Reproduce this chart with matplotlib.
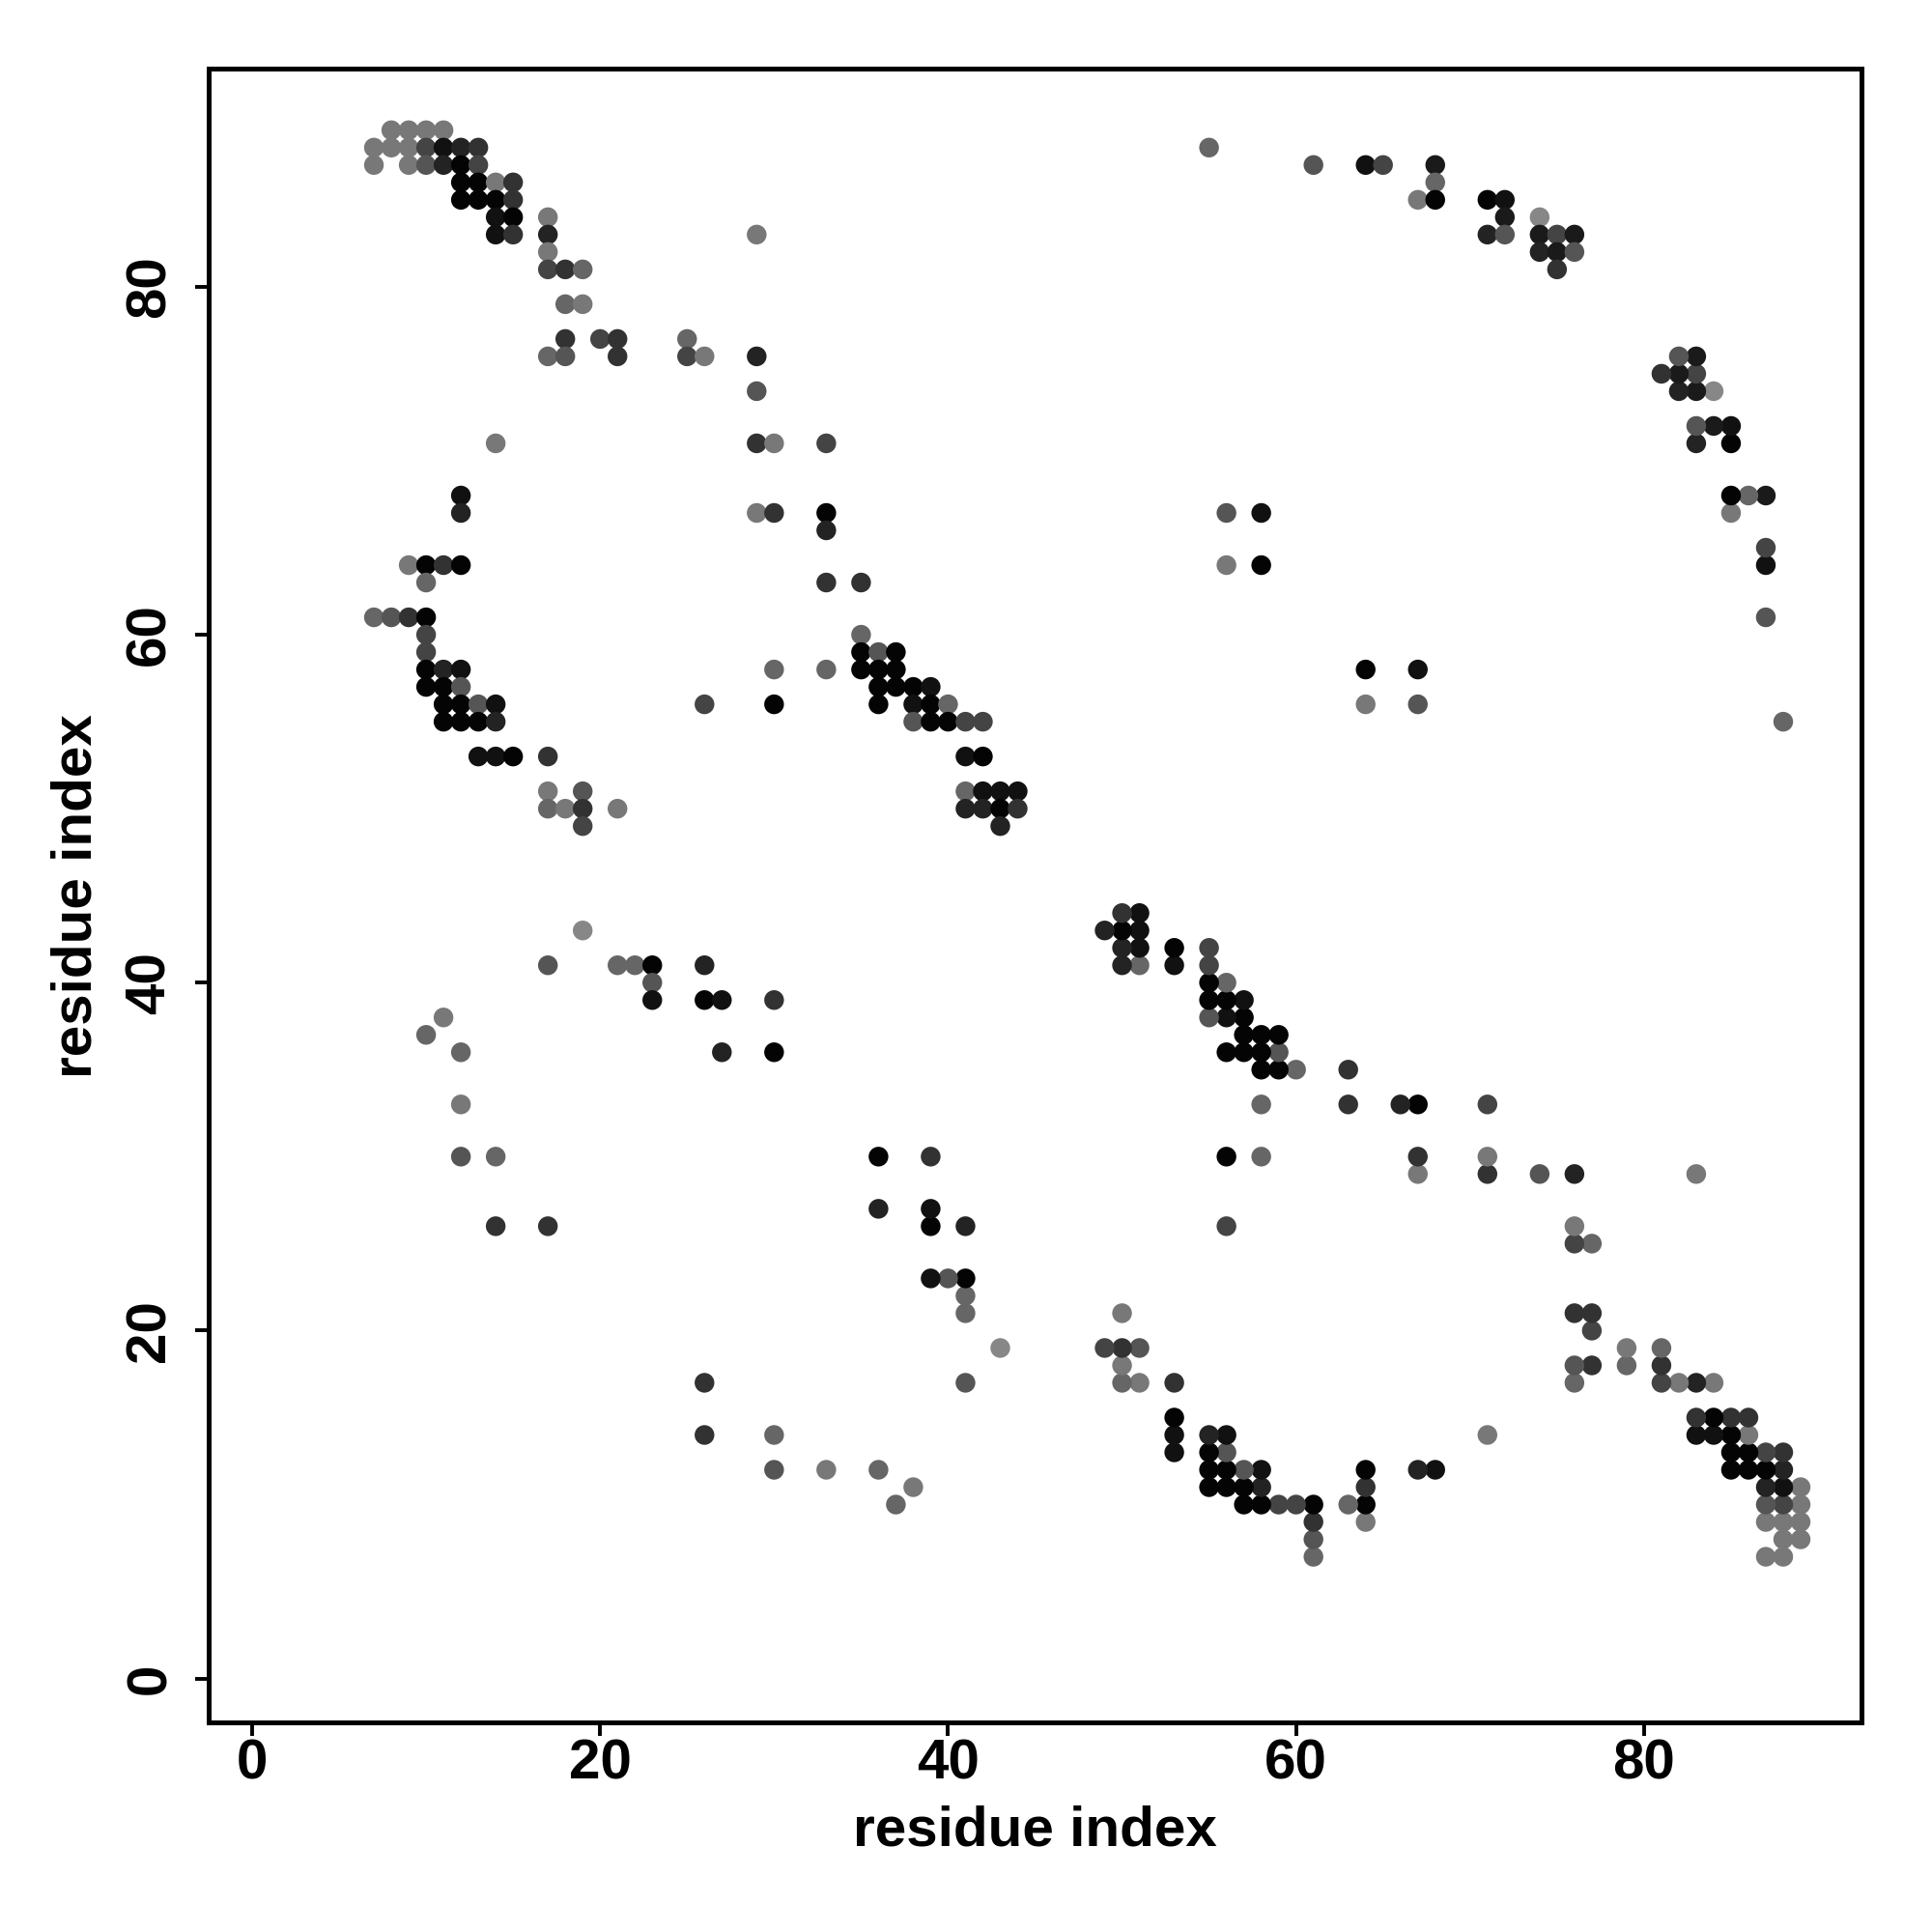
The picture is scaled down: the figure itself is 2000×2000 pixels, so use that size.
import matplotlib
matplotlib.use("Agg")
import matplotlib.pyplot as plt
import numpy as np

# Contacts (upper triangle, i < j); the map is drawn symmetric.
res_i = [8, 9, 10, 11,
         7, 8, 9, 10, 11, 12, 13,
         7, 9, 10, 11, 12, 13,
         12, 13, 14, 15,
         12, 13, 14, 15,
         14, 15, 17,
         14, 15, 17,
         17,
         17, 18, 19,
         18, 19,
         18, 20, 21,
         17, 18, 21,
         25, 25, 26, 29, 29, 29, 29, 30, 33, 29, 30, 33, 33,
         33, 35, 35,
         35, 36, 37,
         30, 33, 35, 36, 37,
         36, 37, 38, 39,
         26, 30, 36, 38, 39, 40,
         38, 39, 40, 41, 42,
         41, 42,
         41, 42, 43, 44,
         41, 42, 43, 44,
         43,
         12, 12,
         9, 10, 11, 12,
         10,
         7, 8, 9, 10,
         10, 10,
         10, 11, 12,
         10, 11, 12,
         11, 12, 13, 14,
         11, 12, 13, 14,
         13, 14, 15, 17,
         17, 19,
         17, 18, 19, 21,
         19,
         19, 17, 21, 22, 23, 26, 23, 23, 26, 27, 30, 11, 10, 12, 27, 30, 12, 12, 14, 14, 17,
         55, 61, 64, 65, 68, 68, 67, 68, 71, 72, 72, 74, 71, 72, 74, 75, 76, 74, 75, 76, 75,
         56, 58, 56, 58,
         14]
res_j = [89, 89, 89, 89,
         88, 88, 88, 88, 88, 88, 88,
         87, 87, 87, 87, 87, 87,
         86, 86, 86, 86,
         85, 85, 85, 85,
         84, 84, 84,
         83, 83, 83,
         82,
         81, 81, 81,
         79, 79,
         77, 77, 77,
         76, 76, 76,
         77, 76, 76, 83, 76, 74, 71, 71, 71, 67, 67, 67, 66,
         63, 63, 60,
         59, 59, 59,
         58, 58, 58, 58, 58,
         57, 57, 57, 57,
         56, 56, 56, 56, 56, 56,
         55, 55, 55, 55, 55,
         53, 53,
         51, 51, 51, 51,
         50, 50, 50, 50,
         49,
         68, 67,
         64, 64, 64, 64,
         63,
         61, 61, 61, 61,
         60, 59,
         58, 58, 58,
         57, 57, 57,
         56, 56, 56, 56,
         55, 55, 55, 55,
         53, 53, 53, 53,
         51, 51,
         50, 50, 50, 50,
         49,
         43, 41, 41, 41, 41, 41, 40, 39, 39, 39, 39, 38, 37, 36, 36, 36, 33, 30, 30, 26, 26,
         88, 87, 87, 87, 87, 86, 85, 85, 85, 85, 84, 84, 83, 83, 83, 83, 83, 82, 82, 82, 81,
         67, 67, 64, 64,
         71]
# predicted contact probability (darker = higher)
prob = [0.17, 0.17, 0.17, 0.17,
        0.17, 0.17, 0.17, 0.53, 0.88, 0.76, 0.65,
        0.17, 0.17, 0.41, 0.76, 0.97, 0.53,
        0.97, 0.97, 0.17, 0.65,
        0.97, 0.97, 0.97, 0.65,
        0.88, 0.97, 0.17,
        0.88, 0.65, 0.76,
        0.17,
        0.53, 0.65, 0.29,
        0.29, 0.17,
        0.65, 0.53, 0.65,
        0.29, 0.41, 0.65,
        0.29, 0.53, 0.17, 0.17, 0.76, 0.41, 0.65, 0.17, 0.53, 0.17, 0.65, 0.97, 0.76,
        0.65, 0.65, 0.29,
        0.97, 0.41, 0.97,
        0.29, 0.29, 0.97, 0.97, 0.97,
        0.97, 0.97, 0.97, 0.88,
        0.53, 0.97, 0.97, 0.88, 0.97, 0.29,
        0.41, 0.97, 0.97, 0.53, 0.53,
        0.88, 0.97,
        0.29, 0.88, 0.88, 0.88,
        0.76, 0.76, 0.97, 0.65,
        0.76,
        0.88, 0.76,
        0.17, 0.97, 0.65, 0.97,
        0.29,
        0.29, 0.41, 0.65, 0.97,
        0.53, 0.53,
        0.97, 0.76, 0.88,
        0.97, 0.97, 0.41,
        0.97, 0.97, 0.41, 0.88,
        0.97, 0.97, 0.97, 0.76,
        0.88, 0.88, 0.97, 0.65,
        0.17, 0.41,
        0.29, 0.17, 0.65, 0.17,
        0.53,
        0.06, 0.41, 0.29, 0.29, 0.97, 0.76, 0.41, 0.88, 0.97, 0.88, 0.65, 0.17, 0.29, 0.29, 0.76, 0.97, 0.17, 0.41, 0.29, 0.65, 0.65,
        0.29, 0.41, 0.88, 0.53, 0.82, 0.29, 0.17, 0.97, 0.97, 0.88, 0.82, 0.06, 0.76, 0.41, 0.82, 0.53, 0.82, 0.76, 0.82, 0.41, 0.65,
        0.41, 0.88, 0.17, 0.97,
        0.17]

x_ticks = [0, 20, 40, 60, 80]
y_ticks = [0, 20, 40, 60, 80]
x_title = "residue index"
y_title = "residue index"

ri = np.array(res_i)
rj = np.array(res_j)
p = np.array(prob)
xs = np.concatenate([ri, rj])
ys = np.concatenate([rj, ri])
ps = np.concatenate([p, p])
grey = (1 - ps) * 144 / 255.0
colors = [(g, g, g) for g in grey]

plt.rcParams['font.family'] = ['Liberation Sans', 'DejaVu Sans']
plt.rcParams['font.weight'] = 'bold'

fig = plt.figure(figsize=(10, 10), dpi=200)
ax = fig.add_axes([0.1078, 0.1085, 0.9637 - 0.1078, 0.9643 - 0.1085])
ax.scatter(xs, ys, s=54, c=colors, linewidths=0, zorder=3)

lo, hi = 1, 89
pad = 0.04 * (hi - lo)
ax.set_xlim(lo - pad, hi + pad)
ax.set_ylim(lo - pad, hi + pad)
ax.set_xticks(x_ticks)
ax.set_yticks(y_ticks)
ax.set_xticklabels([str(t) for t in x_ticks], fontsize=21, fontweight='bold')
ax.set_yticklabels([str(t) for t in y_ticks], fontsize=21, fontweight='bold',
                   rotation=90, va='center')
ax.tick_params(axis='both', direction='out', length=5, width=1.4, color='black')
ax.tick_params(axis='x', pad=1)
ax.tick_params(axis='y', pad=6.8)
for s in ax.spines.values():
    s.set_linewidth(1.8)
ax.set_xlabel(x_title, fontsize=21, fontweight='bold', labelpad=5.5)
ax.set_ylabel(y_title, fontsize=21, fontweight='bold', labelpad=8)

fig.savefig("out.png", dpi=200, facecolor='white')
